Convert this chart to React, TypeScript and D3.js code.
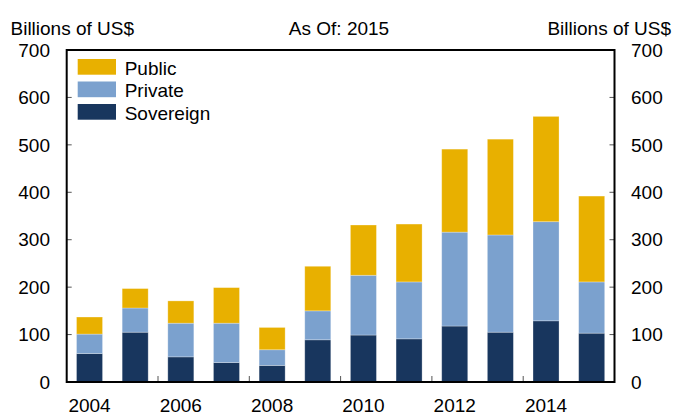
import React from "react";
import * as d3 from "d3";

const years = ["2004","2005","2006","2007","2008","2009","2010","2011","2012","2013","2014","2015"];
const sovereign = [60, 105, 53, 41, 35, 89, 99, 91, 118, 105, 129, 103];
const privateV = [41, 51, 71, 83, 33, 61, 126, 120, 198, 205, 209, 108];
const publicV = [36, 41, 47, 75, 47, 94, 106, 122, 175, 202, 222, 181];
const seriesNames = ["Sovereign", "Private", "Public"];
const colors = ["#18365E", "#7BA1CE", "#E8B000"];
const yTicks = [0, 100, 200, 300, 400, 500, 600, 700];
const xLabelYears = ["2004", "2006", "2008", "2010", "2012", "2014"];
const xTickYears = ["2006", "2008", "2010", "2012", "2014"];

const W = 673, H = 413;
const L = 66.7, R = 614.5, T = 50, B = 382;
const FONT = "Liberation Sans, Arial, sans-serif";

export default function App() {
  const x = d3.scaleBand().domain(years).range([L, R]).paddingInner(0.43).paddingOuter(0.215);
  const y = d3.scaleLinear().domain([0, 700]).range([B, T]);
  const rows = years.map((yr, i) => ({ year: yr, Sovereign: sovereign[i], Private: privateV[i], Public: publicV[i] }));
  const stack = d3.stack<any>().keys(seriesNames)(rows);
  const step = x.step();
  const legend = [
    { name: "Public", color: colors[2] },
    { name: "Private", color: colors[1] },
    { name: "Sovereign", color: colors[0] },
  ];
  return (
    <svg width={W} height={H} style={{ position: "absolute", left: 0, top: 0 }} fontFamily={FONT}>
      <rect width={W} height={H} fill="#fff" />
      <text x={10.5} y={35} fontSize={19} fill="#000">Billions of US$</text>
      <text x={339} y={35} fontSize={19} textAnchor="middle" fill="#000">As Of: 2015</text>
      <text x={671} y={35} fontSize={19} textAnchor="end" fill="#000">Billions of US$</text>
      {stack.map((s, si) => (
        <g key={s.key}>
          {s.map((d, i) => (
            <rect key={i} x={x(years[i])} width={x.bandwidth()} y={y(d[1])} height={y(d[0]) - y(d[1])}
              fill={colors[si]} stroke="#ffffff" strokeOpacity={0.35} strokeWidth={0.8} />
          ))}
        </g>
      ))}
      {yTicks.map((t) => (
        <g key={t}>
          <line x1={L} x2={L + 5} y1={y(t)} y2={y(t)} stroke="#555" strokeWidth={1} />
          <line x1={R - 5} x2={R} y1={y(t)} y2={y(t)} stroke="#555" strokeWidth={1} />
          <text x={50} y={y(t)} dy="0.35em" fontSize={19} textAnchor="end">{t}</text>
          <text x={631} y={y(t)} dy="0.35em" fontSize={19} textAnchor="start">{t}</text>
        </g>
      ))}
      {xTickYears.map((yr) => {
        const xx = (x(yr) as number) - (step - x.bandwidth()) / 2;
        return <line key={yr} x1={xx} x2={xx} y1={B} y2={B - 6} stroke="#555" strokeWidth={1} />;
      })}
      {xLabelYears.map((yr) => (
        <text key={yr} x={(x(yr) as number) + x.bandwidth() / 2} y={412} fontSize={19} textAnchor="middle">{yr}</text>
      ))}
      <rect x={L} y={T} width={R - L} height={B - T} fill="none" stroke="#000" strokeWidth={2} />
      {legend.map((l, i) => (
        <g key={l.name}>
          <rect x={77.7} y={59 + i * 22.5} width={38.3} height={15.7} fill={l.color} />
          <text x={124.7} y={74.5 + i * 22.5} fontSize={19}>{l.name}</text>
        </g>
      ))}
    </svg>
  );
}
